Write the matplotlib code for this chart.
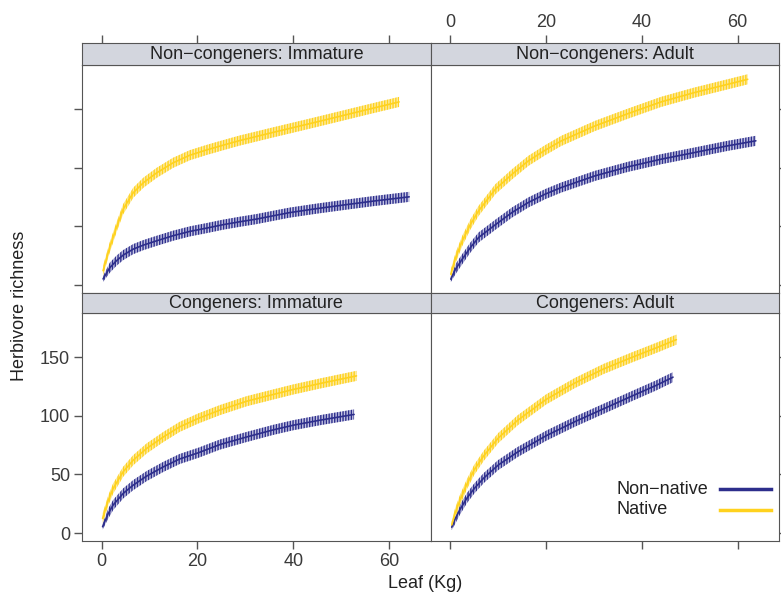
import numpy as np
import matplotlib
matplotlib.use("Agg")
import matplotlib.pyplot as plt
from matplotlib.lines import Line2D

plt.rcParams['font.family'] = ['Liberation Sans', 'DejaVu Sans']
plt.rcParams['hatch.linewidth'] = 1.0

W, H = 781, 597

# ---- data (leaf kg vs herbivore richness) ----
panels = ["Non\u2212congeners: Immature", "Non\u2212congeners: Adult",
          "Congeners: Immature", "Congeners: Adult"]

nc_imm_x_nat = [0.3, 1.7, 3.1, 4.5, 6.6, 8.7, 11.5, 14.9, 18.4, 21.9, 25.3, 28.8,
                32.3, 35.8, 39.2, 45, 50, 56, 62.1]
nc_imm_y_nat = [12, 32, 49, 64.5, 78.5, 87, 95.5, 104, 110.5, 115, 119, 123,
                126.5, 130, 133.3, 139, 144, 150, 156]
nc_imm_x_non = [0.3, 1.7, 3.1, 4.5, 6.6, 8.7, 11.5, 14.9, 18.4, 21.9, 25.3, 28.8,
                32.3, 35.8, 39.2, 45, 51, 57, 64.2]
nc_imm_y_non = [5, 14.5, 20.5, 25.3, 30.4, 33.8, 37.5, 41.8, 45.5, 48.3, 51.2, 53.7,
                56, 58.8, 61.5, 65, 68.3, 71.5, 75]

nc_ad_x_nat = [0.1, 1.1, 2.5, 4.2, 5.9, 9.4, 12.9, 16.3, 19.8, 23.2, 30.2, 37.1,
               44, 51, 57.9, 62.1]
nc_ad_y_nat = [9, 23, 37.5, 51.5, 63, 81.5, 94.3, 105.7, 114.8, 122.8, 135.5, 146,
               156, 164, 171, 175.3]
nc_ad_x_non = [0.1, 1.1, 2.5, 4.2, 5.9, 9.4, 12.9, 16.3, 19.8, 23.2, 30.2, 37.1,
               44, 51, 57.9, 63.8]
nc_ad_y_non = [4.8, 13.4, 21.9, 31.8, 40.3, 51.2, 61.7, 70.2, 77.3, 83, 92.9, 100.6,
               107.1, 112.8, 118.5, 122.8]

c_imm_x_nat = [0.2, 1.4, 2.4, 4.5, 6.6, 9.4, 12.9, 16.3, 20.2, 24.7, 30.3, 35.8,
               40, 45.6, 53.2]
c_imm_y_nat = [12.5, 28, 38, 52.3, 62.2, 72.2, 82, 90.6, 97.8, 104.9, 112.5, 118.2,
               122.5, 127.6, 134.1]
c_imm_x_non = [0.2, 1.4, 2.4, 4.5, 6.6, 9.4, 12.9, 16.3, 20.2, 24.7, 30.3, 35.8,
               40, 45.6, 52.7]
c_imm_y_non = [5.4, 16.8, 23.9, 33.8, 40.9, 48.6, 56.5, 63.2, 68.5, 75.5, 82, 88,
               92, 96.3, 101.2]

c_ad_x_nat = [0.3, 1, 2, 3.5, 5, 7, 10, 14, 20, 26, 32, 38, 43, 47.2]
c_ad_y_nat = [7, 17, 28, 42, 54, 66, 81, 96, 114, 128, 140, 150, 158, 165]
c_ad_x_non = [0.3, 1, 2, 3.5, 5, 7, 10, 14, 20, 26, 32, 38, 43, 46.5]
c_ad_y_non = [5, 12, 20, 30, 38, 47, 58, 69, 83, 95, 106, 117, 126, 133]

# approx. half-width of the interval bands (richness units)
band_hw = 4.3

series = {
    panels[0]: ((nc_imm_x_non, nc_imm_y_non), (nc_imm_x_nat, nc_imm_y_nat)),
    panels[1]: ((nc_ad_x_non, nc_ad_y_non), (nc_ad_x_nat, nc_ad_y_nat)),
    panels[2]: ((c_imm_x_non, c_imm_y_non), (c_imm_x_nat, c_imm_y_nat)),
    panels[3]: ((c_ad_x_non, c_ad_y_non), (c_ad_x_nat, c_ad_y_nat)),
}

col_non = '#2D2E8C'
col_nat = '#FFD21E'
band_non = '#C4C4E2'
band_nat = '#FCEBA6'
strip_col = '#D3D6DE'
frame_col = '#555555'
text_col = '#3A3A3A'
fs = 13

xticks = [0, 20, 40, 60]
yticks = [0, 50, 100, 150]
xlim = (-4.1, 68.7)
ylim = (-6.8, 187.5)


def rect(x0, y0, x1, y1):
    return [x0 / W, 1 - y1 / H, (x1 - x0) / W, (y1 - y0) / H]


fig = plt.figure(figsize=(W / 100, H / 100), dpi=100)

cols = [(82, 430.7), (430.7, 779.3)]
rows = [((43.3, 65), (65, 292.7)), ((292.7, 313.3), (313.3, 541))]

for i, name in enumerate(panels):
    r, c = divmod(i, 2)
    (sy0, sy1), (py0, py1) = rows[r]
    x0, x1 = cols[c]
    ax = fig.add_axes(rect(x0, py0, x1, py1))
    sax = fig.add_axes(rect(x0, sy0, x1, sy1), sharex=ax)

    for (xs, ys), lc, bc in zip(series[name], (col_non, col_nat), (band_non, band_nat)):
        xs = np.array(xs)
        ys = np.array(ys)
        hw = np.minimum(band_hw, 0.3 * ys + 1)
        ax.fill_between(xs, ys - hw, ys + hw, facecolor=bc, edgecolor=lc,
                        hatch='||||||', linewidth=0)
        ax.plot(xs, ys, color=lc, lw=1.2, solid_capstyle='round')

    ax.set_xlim(*xlim)
    ax.set_ylim(*ylim)
    for sp in list(ax.spines.values()) + list(sax.spines.values()):
        sp.set_color(frame_col)
    sax.set_facecolor(strip_col)
    sax.set_yticks([])
    sax.text(0.5, 0.47, name, transform=sax.transAxes, ha='center', va='center',
             fontsize=fs, color='#222222')

    ax.set_xticks(xticks)
    ax.set_yticks(yticks)
    for a in (ax, sax):
        a.tick_params(direction='out', length=5.5, color=frame_col, labelcolor=text_col,
                      labelsize=fs, width=1, pad=3)

    if r == 0:
        ax.tick_params(axis='x', bottom=False, labelbottom=False)
        sax.tick_params(axis='x', top=True, bottom=False, labeltop=(c == 1),
                        labelbottom=False)
    else:
        ax.tick_params(axis='x', bottom=True, labelbottom=(c == 0))
        sax.tick_params(axis='x', top=False, bottom=False, labeltop=False,
                        labelbottom=False)
    if c == 0:
        ax.tick_params(axis='y', left=True, labelleft=(r == 1), right=False)
    else:
        ax.tick_params(axis='y', left=False, labelleft=False, right=True,
                       labelright=False)

# legend key, drawn inside the Congeners: Adult panel
leg_labels = ['Non\u2212native', 'Native']
leg_cols = [col_non, col_nat]
leg_y = [489, 510]
for lab, lc, yy in zip(leg_labels, leg_cols, leg_y):
    fig.text(616 / W, 1 - yy / H, lab, ha='left', va='center', fontsize=fs,
             color='#222222')
    fig.add_artist(Line2D([720 / W, 771 / W], [1 - yy / H, 1 - yy / H],
                          transform=fig.transFigure, color=lc, lw=2.5))

fig.text(20 / W, 1 - 306 / H, 'Herbivore richness', rotation=90, ha='center',
         va='center', fontsize=fs, color='#222222')
fig.text(425 / W, 1 - 583 / H, 'Leaf (Kg)', ha='center', va='center',
         fontsize=fs, color='#222222')

fig.savefig('out.png', dpi=100)
